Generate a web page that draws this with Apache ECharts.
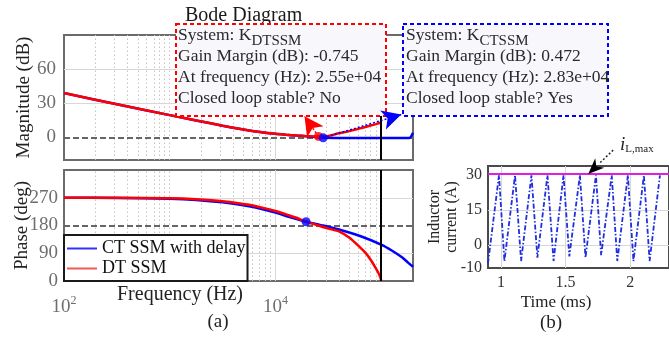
<!DOCTYPE html>
<html>
<head>
<meta charset="utf-8">
<script src="https://cdn.jsdelivr.net/npm/echarts@6/dist/echarts.min.js"></script>
<style>
html, body { margin: 0; padding: 0; background: #fff; }
#chart { width: 669px; height: 337px; }
</style>
</head>
<body>
<div id="chart"></div>
<script>
// ---- (a) Bode diagram: x values are log10(frequency in Hz) ----
const ctFreqLog  = [2.0, 2.5, 3.0, 3.25, 3.5, 3.75, 4.0, 4.1, 4.2, 4.29, 4.35, 4.406, 4.452, 4.6, 4.8, 5.0, 5.1, 5.2, 5.25, 5.27, 5.285, 5.301];
const ctMagDb    = [39, 29, 19.5, 14.8, 10.2, 6, 3, 2.2, 1.5, 1.0, 0.5, 0.0, -0.47, -0.55, -0.6, -0.65, -0.65, -0.65, -0.65, -0.6, 1.0, 4.0];
const ctPhaseDeg = [270, 269.5, 267, 263, 255, 242, 222, 211, 201, 192, 187, 183, 180, 167, 146, 118, 99, 76, 61, 55, 51, 46];

const dtFreqLog  = [2.0, 2.5, 3.0, 3.25, 3.5, 3.75, 4.0, 4.1, 4.2, 4.29, 4.35, 4.406, 4.5, 4.6, 4.7, 4.8, 4.85, 4.9, 4.95, 4.98, 4.995, 5.0];
const dtMagDb    = [39, 29, 19.5, 14.8, 10.2, 6, 3, 2.2, 1.5, 1.0, 0.8, 0.745, 1.2, 3.5, 5.4, 7.8, 9.0, 10.3, 11.6, 12.4, 12.8, 13.0];
const dtPhaseDeg = [270, 270, 268, 265, 259, 247, 227, 216, 205, 192, 186, 180, 170, 161, 140, 109, 92, 69, 41, 22, 9, 0];

// gain-margin read-outs
const dtMargin = { system: 'DTSSM', gainMarginDb: -0.745, freqHz: 2.55e4, stable: 'No' };
const ctMargin = { system: 'CTSSM', gainMarginDb: 0.472, freqHz: 2.83e4, stable: 'Yes' };
const ctPhasePoint = [4.29, 192];
const nyquistHz = 1e5;

const freqTickExps = [2, 4];
const magTicks = [0, 30, 60];
const magGridDb = [30, 60];
const phaseTicks = [0, 90, 180, 270];
const phaseGridDeg = [90, 270];

// ---- (b) inductor current ----
const timeMs = [0.9, 0.985, 1.027, 1.109, 1.156, 1.236, 1.282, 1.360, 1.407, 1.484, 1.529, 1.611, 1.654, 1.735, 1.775, 1.857, 1.900, 1.982, 2.025, 2.106, 2.15, 2.23];
const currentA = [-8, 30, -7, 30, -7, 30, -5.5, 30, -7, 30, -5, 30, -5.5, 30, -4.5, 30, -7, 30, -7, 30, -7, 30];
const iLMax = 30.5;
const iLMaxPointerMs = 1.675;
const timeTicks = [1, 1.5, 2];
const currentTicks = [-10, 0, 15, 30];

const serif = "'Liberation Serif', 'Times New Roman', Times, serif";
const freqMin = 2, freqMax = Math.log10(2e5);

const pairs = (xs, ys) => xs.map((x, i) => [x, ys[i]]);
const near = (list, v) => list.find(t => Math.abs(t - v) < 1e-6);

function fmtExp(v) {
  const parts = v.toExponential(2).split('e');
  const n = parseInt(parts[1], 10);
  return parts[0] + 'e' + (n < 0 ? '-' : '+') + String(Math.abs(n)).padStart(2, '0');
}
function popupText(m) {
  return '{a|System: K}{s|' + m.system + '}\n' +
         '{a|Gain Margin (dB): ' + m.gainMarginDb + '}\n' +
         '{a|At frequency (Hz): ' + fmtExp(m.freqHz) + '}\n' +
         '{a|Closed loop stable? ' + m.stable + '}';
}
const popupRich = {
  a: { fontFamily: serif, fontSize: 17.5, lineHeight: 21, color: '#2a2a2a' },
  s: { fontFamily: serif, fontSize: 15, lineHeight: 15, color: '#2a2a2a', padding: [11, 0, 0, 0] }
};

// grid line styles
const minorStyle = { color: '#c4c4c4', width: 1, type: [1.5, 2.5] };
const majorStyle = { color: '#d8d8d8', width: 1, type: 'solid' };
const refStyle = { color: '#666', width: 2, type: [6, 3] };
const nyqStyle = { color: '#000', width: 2, type: 'solid' };

const freqMinor = [];
for (let d = 2; d <= 5; d++) {
  for (let k = 1; k <= 9; k++) {
    const v = d + Math.log10(k);
    if (v > freqMin + 1e-6 && v < freqMax - 1e-6 && near(freqTickExps, v) === undefined) freqMinor.push(v);
  }
}
function vGrid() {
  return freqMinor.map(v => ({ xAxis: v, lineStyle: minorStyle }))
    .concat(freqTickExps.filter(v => v > freqMin).map(v => ({ xAxis: v, lineStyle: majorStyle })));
}
function gridSeries(xi, yi, lines, z) {
  return {
    type: 'line', xAxisIndex: xi, yAxisIndex: yi, data: [], silent: true, z: z,
    markLine: { silent: true, symbol: 'none', label: { show: false }, z: z, animation: false, data: lines }
  };
}

const blue = '#0000ff', red = '#ff0000';
const curve = (name, color, xi, yi, data, z) => ({
  name: name, type: 'line', xAxisIndex: xi, yAxisIndex: yi, data: data,
  symbol: 'none', showSymbol: false, smooth: 0.2, z: z, animation: false,
  lineStyle: { color: color, width: 2.5 }, itemStyle: { color: color }
});

const tickLabel = { fontFamily: serif, fontSize: 19, color: '#6e6e6e' };
const axisName = { fontFamily: serif, fontSize: 19, color: '#222' };

const chart = echarts.init(document.getElementById('chart'), null, { renderer: 'canvas' });

const option = {
  animation: false,
  backgroundColor: '#fff',
  title: {
    text: 'Bode Diagram', left: 180, top: 1,
    textStyle: { fontFamily: serif, fontSize: 20, fontWeight: 'normal', color: '#1a1a1a' }
  },
  legend: {
    orient: 'vertical', left: 64, top: 235, selectedMode: false,
    icon: 'rect', itemWidth: 30, itemHeight: 2,
    data: [{ name: 'CT SSM with delay', itemStyle: { color: '#3030ff' } },
           { name: 'DT SSM', itemStyle: { color: '#f05a5a' } }],
    backgroundColor: '#fff', borderColor: '#1a1a1a', borderWidth: 2, borderRadius: 0,
    padding: [4, 2, 3, 3], itemGap: 1,
    textStyle: { fontFamily: serif, fontSize: 18, color: '#111', lineHeight: 19 }
  },
  grid: [
    { left: 64, top: 35, width: 349, height: 125, show: true, borderColor: '#6b6b6b', borderWidth: 2, backgroundColor: 'transparent' },
    { left: 64, top: 170, width: 349, height: 111, show: true, borderColor: '#6b6b6b', borderWidth: 2, backgroundColor: 'transparent' },
    { left: 488, top: 166, width: 199, height: 102, show: true, borderColor: '#4a4a4a', borderWidth: 2, backgroundColor: 'transparent' }
  ],
  xAxis: [
    { gridIndex: 0, type: 'value', min: freqMin, max: freqMax, interval: 2,
      axisLine: { show: false }, axisTick: { show: false }, axisLabel: { show: false }, splitLine: { show: false } },
    { gridIndex: 1, type: 'value', min: freqMin, max: freqMax, interval: 2,
      axisLine: { show: false }, axisTick: { show: false }, splitLine: { show: false },
      axisLabel: {
        margin: 14, showMaxLabel: false,
        formatter: v => { const e = near(freqTickExps, v); return e === undefined ? '' : '{b|10}{sup|' + e + '}'; },
        rich: {
          b: { fontFamily: serif, fontSize: 19, color: '#6e6e6e' },
          sup: { fontFamily: serif, fontSize: 12, color: '#6e6e6e', padding: [0, 0, 13, 0] }
        }
      } },
    { gridIndex: 2, type: 'value', min: 0.9, max: 2.3, interval: 0.1,
      axisLine: { show: false }, axisTick: { show: false }, splitLine: { show: false },
      axisLabel: {
        margin: 7, showMaxLabel: false, showMinLabel: false,
        fontFamily: serif, fontSize: 16, color: '#333',
        formatter: v => { const t = near(timeTicks, v); return t === undefined ? '' : String(t); }
      } }
  ],
  yAxis: [
    { gridIndex: 0, type: 'value', min: -20, max: 90, interval: 10,
      name: 'Magnitude (dB)', nameLocation: 'middle', nameGap: 30, nameMoveOverlap: false, nameTextStyle: axisName,
      axisLine: { show: false }, axisTick: { show: false }, splitLine: { show: false },
      axisLabel: Object.assign({ margin: 8, formatter: v => { const t = near(magTicks, v); return t === undefined ? '' : String(t); } }, tickLabel) },
    { gridIndex: 1, type: 'value', min: 0, max: 360, interval: 90,
      name: 'Phase (deg)', nameLocation: 'middle', nameGap: 32, nameMoveOverlap: false, nameTextStyle: axisName,
      axisLine: { show: false }, axisTick: { show: false }, splitLine: { show: false },
      axisLabel: Object.assign({ margin: 6, showMaxLabel: false, formatter: v => { const t = near(phaseTicks, v); return t === undefined ? '' : String(t); } }, tickLabel) },
    { gridIndex: 2, type: 'value', min: -10, max: 34, interval: 5,
      name: 'Inductor\ncurrent (A)', nameLocation: 'middle', nameGap: 28, nameMoveOverlap: false,
      nameTextStyle: { fontFamily: serif, fontSize: 16, color: '#222', lineHeight: 17 },
      axisLine: { show: false }, axisTick: { show: false }, splitLine: { show: false },
      axisLabel: { margin: 6, showMaxLabel: false, fontFamily: serif, fontSize: 16, color: '#333',
        formatter: v => { const t = near(currentTicks, v); return t === undefined ? '' : String(t); } } }
  ],
  series: [
    // grid lines
    gridSeries(0, 0, vGrid().concat(magGridDb.map(v => ({ yAxis: v, lineStyle: majorStyle }))), 1),
    gridSeries(1, 1, vGrid().concat(phaseGridDeg.map(v => ({ yAxis: v, lineStyle: majorStyle }))), 1),
    gridSeries(2, 2, timeTicks.map(v => ({ xAxis: v, lineStyle: majorStyle }))
      .concat([0, 15].map(v => ({ yAxis: v, lineStyle: majorStyle }))), 1),
    // reference lines: 0 dB, 180 deg
    gridSeries(0, 0, [{ yAxis: 0, lineStyle: refStyle }], 1.5),
    gridSeries(1, 1, [{ yAxis: 180, lineStyle: refStyle }], 1.5),

    curve('CT SSM with delay', blue, 0, 0, pairs(ctFreqLog, ctMagDb), 2),
    curve('DT SSM', red, 0, 0, pairs(dtFreqLog, dtMagDb), 3),
    curve('CT SSM with delay', blue, 1, 1, pairs(ctFreqLog, ctPhaseDeg), 2),
    curve('DT SSM', red, 1, 1, pairs(dtFreqLog, dtPhaseDeg), 3),

    // Nyquist frequency
    gridSeries(0, 0, [{ xAxis: Math.log10(nyquistHz), lineStyle: nyqStyle }], 4),
    gridSeries(1, 1, [{ xAxis: Math.log10(nyquistHz), lineStyle: nyqStyle }], 4),

    // gain-margin points with pointers to their read-outs
    { type: 'scatter', xAxisIndex: 0, yAxisIndex: 0, z: 6, silent: true, symbolSize: 9,
      itemStyle: { color: red },
      data: [[Math.log10(dtMargin.freqHz), -dtMargin.gainMarginDb]],
      markLine: { silent: true, z: 110, symbol: ['none', 'arrow'], symbolSize: [15, 19], label: { show: false },
        lineStyle: { color: red, width: 1.5, type: [2, 2] },
        data: [[{ coord: [Math.log10(dtMargin.freqHz), -dtMargin.gainMarginDb] }, { coord: [4.275, 18.5] }]] } },
    { type: 'scatter', xAxisIndex: 0, yAxisIndex: 0, z: 6, silent: true, symbolSize: 9,
      itemStyle: { color: blue },
      data: [[Math.log10(ctMargin.freqHz), -ctMargin.gainMarginDb]],
      markLine: { silent: true, z: 110, symbol: ['none', 'arrow'], symbolSize: [15, 19], label: { show: false },
        lineStyle: { color: blue, width: 1.5, type: [2, 2] },
        data: [[{ coord: [Math.log10(ctMargin.freqHz), -ctMargin.gainMarginDb] }, { coord: [5.19, 20] }]] } },
    { type: 'scatter', xAxisIndex: 1, yAxisIndex: 1, z: 6, silent: true, symbolSize: 9,
      itemStyle: { color: blue }, data: [ctPhasePoint] },

    // (b) inductor current and its limit
    { type: 'line', xAxisIndex: 2, yAxisIndex: 2, z: 3, symbol: 'none', animation: false,
      data: pairs(timeMs, currentA),
      lineStyle: { color: '#1f2fe0', width: 1.8, type: [5, 2, 1.5, 2] } },
    { type: 'line', xAxisIndex: 2, yAxisIndex: 2, z: 4, symbol: 'none', animation: false,
      data: [[0.9, iLMax], [2.3, iLMax]],
      lineStyle: { color: '#e01ee0', width: 2 } }
  ],
  graphic: [
    { id: 'popDT', type: 'rect', z: 100, shape: { x: 176, y: 24, width: 210, height: 92 },
      style: { fill: '#f8f8fc', stroke: red, lineWidth: 2, lineDash: [4, 3] } },
    { id: 'popDTtext', type: 'text', z: 101, x: 178, y: 25,
      style: { text: popupText(dtMargin), rich: popupRich, fontFamily: serif, fontSize: 17.5, fill: '#2a2a2a' } },
    { id: 'popCT', type: 'rect', z: 100, shape: { x: 403, y: 24, width: 205, height: 92 },
      style: { fill: '#f8f8fc', stroke: blue, lineWidth: 2, lineDash: [4, 3] } },
    { id: 'popCTtext', type: 'text', z: 101, x: 406, y: 25,
      style: { text: popupText(ctMargin), rich: popupRich, fontFamily: serif, fontSize: 17.5, fill: '#2a2a2a' } },
    { id: 'freqName', type: 'text', z: 50, x: 180, y: 295,
      style: { text: 'Frequency (Hz)', fontFamily: serif, fontSize: 20, fill: '#222', align: 'center', verticalAlign: 'middle' } },
    { id: 'capA', type: 'text', z: 50, x: 218, y: 322,
      style: { text: '(a)', fontFamily: serif, fontSize: 19, fill: '#222', align: 'center', verticalAlign: 'middle' } },
    { id: 'timeName', type: 'text', z: 50, x: 556, y: 303,
      style: { text: 'Time (ms)', fontFamily: serif, fontSize: 17, fill: '#222', align: 'center', verticalAlign: 'middle' } },
    { id: 'capB', type: 'text', z: 50, x: 551, y: 323,
      style: { text: '(b)', fontFamily: serif, fontSize: 19, fill: '#222', align: 'center', verticalAlign: 'middle' } },
    { id: 'iLabel', type: 'text', z: 50, x: 620, y: 135,
      style: { text: '{i|i}{s|L,max}', fontFamily: serif, fill: '#222',
        rich: { i: { fontFamily: serif, fontSize: 19, fontStyle: 'italic', color: '#222' },
                s: { fontFamily: serif, fontSize: 11, color: '#222', padding: [9, 0, 0, 0] } } } }
  ]
};

chart.setOption(option);

// pointer from the i_L,max label down to the limit line
const tip = chart.convertToPixel({ gridIndex: 2 }, [iLMaxPointerMs, iLMax]);
const tail = [tip[0] + 25, tip[1] - 24];
const dx = tip[0] - tail[0], dy = tip[1] - tail[1];
const len = Math.hypot(dx, dy), ux = dx / len, uy = dy / len;
const headLen = 16, headHalf = 6.5;
const base = [tip[0] - ux * headLen, tip[1] - uy * headLen];
chart.setOption({
  graphic: [
    { id: 'iArrowLine', type: 'line', z: 60,
      shape: { x1: tail[0], y1: tail[1], x2: base[0], y2: base[1] },
      style: { stroke: '#222', lineWidth: 1.5, lineDash: [2, 2] } },
    { id: 'iArrowHead', type: 'polygon', z: 60,
      shape: { points: [tip,
        [base[0] - uy * headHalf, base[1] + ux * headHalf],
        [tip[0] - ux * headLen * 0.7, tip[1] - uy * headLen * 0.7],
        [base[0] + uy * headHalf, base[1] - ux * headHalf]] },
      style: { fill: '#000' } }
  ]
});
</script>
</body>
</html>
